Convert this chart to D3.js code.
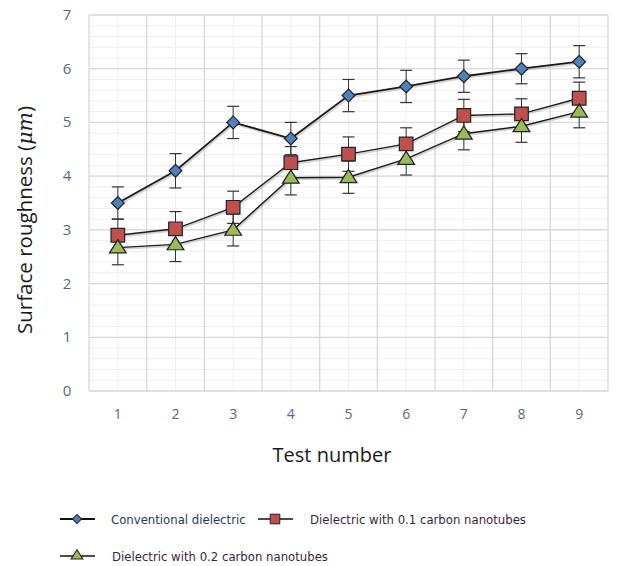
<!DOCTYPE html>
<html>
<head>
<meta charset="utf-8">
<script src="https://cdn.jsdelivr.net/npm/d3@7"></script>
<style>
  body { margin: 0; background: #fff; }
  svg { display: block; }
</style>
</head>
<body>
<div id="chart"></div>
<script>
// data
var tests = [1, 2, 3, 4, 5, 6, 7, 8, 9];
var conventional = [3.5, 4.1, 5.0, 4.7, 5.5, 5.67, 5.86, 6.0, 6.13];
var cnt01 = [2.9, 3.02, 3.42, 4.25, 4.41, 4.6, 5.13, 5.16, 5.45];
var cnt02 = [2.67, 2.73, 3.0, 3.97, 3.98, 4.32, 4.79, 4.93, 5.2];
var errConventional = [0.3, 0.32, 0.3, 0.3, 0.3, 0.3, 0.3, 0.28, 0.3];
var err01 = [0.3, 0.32, 0.3, 0.3, 0.32, 0.3, 0.3, 0.28, 0.3];
var err02 = [0.32, 0.32, 0.3, 0.32, 0.3, 0.3, 0.3, 0.3, 0.3];
var yTicks = [0, 1, 2, 3, 4, 5, 6, 7];
var seriesNames = ["Conventional dielectric", "Dielectric with 0.1 carbon nanotubes", "Dielectric with 0.2 carbon nanotubes"];

var W = 644, H = 566;
var margin = {top: 15, right: 36, bottom: 175, left: 89},
  width = W - margin.left - margin.right,
  height = H - margin.top - margin.bottom;

var svg = d3.select("#chart")
  .append("svg")
    .attr("width", W)
    .attr("height", H);

var g = svg.append("g")
  .attr("transform", "translate(" + margin.left + "," + margin.top + ")");

var x = d3.scaleBand().domain(tests).range([0, width]);
var y = d3.scaleLinear().domain([0, 7]).range([height, 0]);

// minor horizontal grid (every 0.2)
g.selectAll(".hminor")
  .data(d3.range(0, 7.001, 0.2))
  .enter().append("line")
    .attr("x1", 0).attr("x2", width)
    .attr("y1", d => y(d)).attr("y2", d => y(d))
    .style("stroke", "#efefef").style("stroke-width", 1);

// minor vertical grid through category centres
g.selectAll(".vminor")
  .data(tests)
  .enter().append("line")
    .attr("x1", d => x(d) + x.bandwidth() / 2).attr("x2", d => x(d) + x.bandwidth() / 2)
    .attr("y1", 0).attr("y2", height)
    .style("stroke", "#efefef").style("stroke-width", 1);

// major grid
g.selectAll(".hmajor")
  .data(yTicks)
  .enter().append("line")
    .attr("x1", 0).attr("x2", width)
    .attr("y1", d => y(d)).attr("y2", d => y(d))
    .style("stroke", "#d9d9d9").style("stroke-width", 1.3);

g.selectAll(".vmajor")
  .data(d3.range(tests.length + 1))
  .enter().append("line")
    .attr("x1", d => d * x.step()).attr("x2", d => d * x.step())
    .attr("y1", 0).attr("y2", height)
    .style("stroke", "#d9d9d9").style("stroke-width", 1.3);

// tick labels
g.selectAll(".ylab")
  .data(yTicks)
  .enter().append("text")
    .attr("x", -22).attr("y", d => y(d) + 5)
    .attr("text-anchor", "middle")
    .style("font-family", "Open Sans, sans-serif")
    .style("font-size", "15px")
    .style("fill", "#56688a")
    .text(d => d);

g.selectAll(".xlab")
  .data(tests)
  .enter().append("text")
    .attr("x", d => x(d) + x.bandwidth() / 2).attr("y", height + 28)
    .attr("text-anchor", "middle")
    .style("font-family", "Open Sans, sans-serif")
    .style("font-size", "14px")
    .style("fill", "#56688a")
    .text(d => d);

// axis titles
svg.append("text")
  .attr("x", 332).attr("y", 462)
  .attr("text-anchor", "middle")
  .style("font-family", "Open Sans, sans-serif")
  .style("font-size", "20px")
  .style("fill", "#1a1a1a")
  .text("Test number");

var yt = svg.append("text")
  .attr("transform", "translate(32,220) rotate(-90)")
  .attr("text-anchor", "middle")
  .style("font-family", "Open Sans, sans-serif")
  .style("font-size", "20.5px")
  .style("fill", "#1a1a1a");
yt.append("tspan").text("Surface roughness (");
yt.append("tspan").style("font-style", "italic").style("font-family", "DejaVu Serif, serif").text("\u03bcm");
yt.append("tspan").text(")");

// diamond drawn as a square turned 45 degrees
var series = [
  {name: seriesNames[0], values: conventional, err: errConventional, color: "#4f81bd", symbol: d3.symbolSquare, size: 82, rot: 45, lw: 1.8},
  {name: seriesNames[1], values: cnt01, err: err01, color: "#c0504d", symbol: d3.symbolSquare, size: 185, rot: 0, lw: 1.4},
  {name: seriesNames[2], values: cnt02, err: err02, color: "#9bbb59", symbol: d3.symbolTriangle, size: 100, rot: 0, lw: 1.4}
];

var cx = d => x(d) + x.bandwidth() / 2;
var line = d3.line().x((d, i) => cx(tests[i])).y(d => y(d));

series.forEach(function(s) {
  // shadow then line
  g.append("path").datum(s.values)
    .attr("d", line).attr("transform", "translate(1,1.5)")
    .style("fill", "none").style("stroke", "#aaa").style("stroke-width", s.lw + 0.5).style("opacity", 0.5);
  g.append("path").datum(s.values)
    .attr("d", line)
    .style("fill", "none").style("stroke", "#1a1a1a").style("stroke-width", s.lw);
});

series.forEach(function(s) {
  // error bars
  var eb = g.append("g");
  s.values.forEach(function(v, i) {
    var px = cx(tests[i]);
    eb.append("line").attr("x1", px).attr("x2", px)
      .attr("y1", y(v + s.err[i])).attr("y2", y(v - s.err[i]))
      .style("stroke", "#333").style("stroke-width", 1);
    [v + s.err[i], v - s.err[i]].forEach(function(e) {
      eb.append("line").attr("x1", px - 6).attr("x2", px + 6)
        .attr("y1", y(e)).attr("y2", y(e))
        .style("stroke", "#333").style("stroke-width", 1.2);
    });
  });
});

series.forEach(function(s) {
  var tri = s.symbol === d3.symbolTriangle;
  g.selectAll(null)
    .data(s.values)
    .enter().append("path")
      .attr("d", d3.symbol().type(s.symbol).size(s.size))
      .attr("transform", (d, i) => "translate(" + cx(tests[i]) + "," + (y(d) + (tri ? 1 : 0)) + ") rotate(" + s.rot + ")" + (tri ? " scale(1.1,1)" : ""))
      .style("fill", s.color).style("stroke", "#222").style("stroke-width", 1.2);
});

// legend
var legendPos = [
  {x: 60, y: 519, tx: 111},
  {x: 258, y: 519, tx: 310},
  {x: 60, y: 556, tx: 112}
];
series.forEach(function(s, i) {
  var p = legendPos[i];
  var tri = s.symbol === d3.symbolTriangle;
  var lg = svg.append("g");
  lg.append("line").attr("x1", p.x).attr("x2", p.x + 35)
    .attr("y1", p.y).attr("y2", p.y)
    .style("stroke", "#111").style("stroke-width", i === 0 ? 2.2 : 1.3);
  lg.append("path")
    .attr("d", d3.symbol().type(s.symbol).size(s.size * 0.5))
    .attr("transform", "translate(" + (p.x + 17) + "," + p.y + ") rotate(" + s.rot + ")" + (tri ? " scale(1.1,1)" : ""))
    .style("fill", s.color).style("stroke", "#222").style("stroke-width", 1);
  lg.append("text")
    .attr("x", p.tx).attr("y", p.y + 5)
    .style("font-family", "DejaVu Sans Condensed, DejaVu Sans, sans-serif")
    .style("font-size", "13px")
    .style("fill", i === 0 ? "#1f3a5f" : "#3a1f3f")
    .text(s.name);
});
</script>
</body>
</html>
